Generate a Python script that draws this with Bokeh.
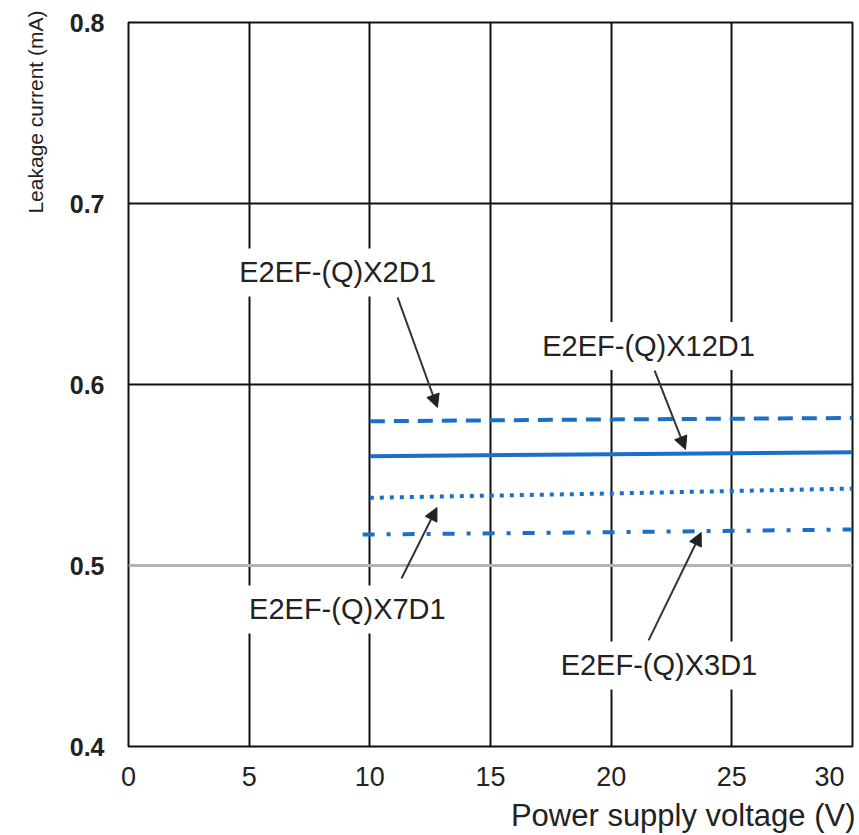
from bokeh.plotting import figure
from bokeh.models import FixedTicker, Span, Label, Arrow, NormalHead, Range1d, Title
from bokeh.embed import file_html
from bokeh.resources import INLINE

# ---- data ----
x_ticks = [0, 5, 10, 15, 20, 25, 30]
y_ticks = [0.4, 0.5, 0.6, 0.7, 0.8]

names = ["E2EF-(Q)X2D1", "E2EF-(Q)X12D1", "E2EF-(Q)X7D1", "E2EF-(Q)X3D1"]
v_x2d1 = [10, 20, 30]
i_x2d1 = [0.5797, 0.5807, 0.5815]
v_x12d1 = [10, 20, 30]
i_x12d1 = [0.5604, 0.5615, 0.5626]
v_x7d1 = [10, 20, 30]
i_x7d1 = [0.5374, 0.5398, 0.5425]
v_x3d1 = [9.7, 20, 30]
i_x3d1 = [0.5171, 0.5184, 0.5199]
ref_level = 0.5

BLUE = "#1a70c8"
FONT = "Liberation Sans"

p = figure(width=859, height=835, x_range=Range1d(0, 30), y_range=Range1d(0.4, 0.8),
           output_backend="svg", toolbar_location=None,
           min_border_left=128, min_border_right=7, min_border_top=22, min_border_bottom=89)
p.background_fill_color = "white"
p.border_fill_color = "white"
p.outline_line_color = "#111111"
p.outline_line_width = 2

# axes
p.xaxis.ticker = FixedTicker(ticks=x_ticks)
p.yaxis.ticker = FixedTicker(ticks=y_ticks)
p.xaxis.major_label_overrides = {30: "30" + "\u00a0" * 2}
p.yaxis.major_label_overrides = {t: f"{t:.1f}" for t in y_ticks}
for ax in (p.xaxis[0], p.yaxis[0]):
    ax.axis_line_color = None
    ax.major_tick_line_color = None
    ax.minor_tick_line_color = None
    ax.major_label_text_font = FONT
    ax.major_label_text_color = "#222222"
p.xaxis.major_label_text_font_size = "27px"
p.xaxis.major_label_standoff = 9
p.yaxis.major_label_text_font_size = "25px"
p.yaxis.major_label_text_font_style = "bold"
p.yaxis.major_label_standoff = 18

# axis titles (aligned to the frame ends, as in the reference)
p.add_layout(Title(text="Power supply voltage (V)", align="right", text_font=FONT,
                   text_font_size="31px", text_font_style="normal", text_color="#222222",
                   standoff=2, offset=-3), "below")
p.add_layout(Title(text="Leakage current (mA)", align="right", text_font=FONT,
                   text_font_size="21px", text_font_style="normal", text_color="#222222",
                   standoff=40, offset=-12), "left")

# grids
p.xgrid.ticker = FixedTicker(ticks=[5, 10, 15, 20, 25])
p.xgrid.grid_line_color = "#111111"
p.xgrid.grid_line_width = 2
p.ygrid.ticker = FixedTicker(ticks=[0.6, 0.7])
p.ygrid.grid_line_color = "#111111"
p.ygrid.grid_line_width = 2
p.add_layout(Span(location=ref_level, dimension="width", line_color="#b4b4b4", line_width=3, level="underlay"))

# series
p.line(v_x2d1, i_x2d1, line_color=BLUE, line_width=4, line_dash="15 9")
p.line(v_x12d1, i_x12d1, line_color=BLUE, line_width=4)
p.line(v_x7d1, i_x7d1, line_color=BLUE, line_width=4, line_dash="4 6")
p.line(v_x3d1, i_x3d1, line_color=BLUE, line_width=4, line_dash="12 12 4 12")

# arrows (drawn before labels so label boxes cover their tails)
arrows = [
    (11.15, 0.6481, 12.80, 0.5873),
    (21.80, 0.6077, 23.08, 0.5641),
    (11.31, 0.4928, 12.78, 0.5320),
    (21.55, 0.4586, 23.73, 0.5182),
]
for xs, ys, xe, ye in arrows:
    p.add_layout(Arrow(x_start=xs, y_start=ys, x_end=xe, y_end=ye,
                       line_color="#333333", line_width=2,
                       end=NormalHead(size=13, fill_color="#222222", line_color="#222222", line_width=1)))

label_pos = [(8.66, 0.6619), (21.55, 0.6213), (9.07, 0.4757), (21.98, 0.4448)]
for name, (lx, ly) in zip(names, label_pos):
    p.add_layout(Label(x=lx, y=ly, text=name, text_align="center", text_baseline="middle",
                       text_font=FONT, text_font_size="29px", text_color="#222222",
                       background_fill_color="white", padding=8))

open("out.html", "w").write(file_html(p, INLINE))
